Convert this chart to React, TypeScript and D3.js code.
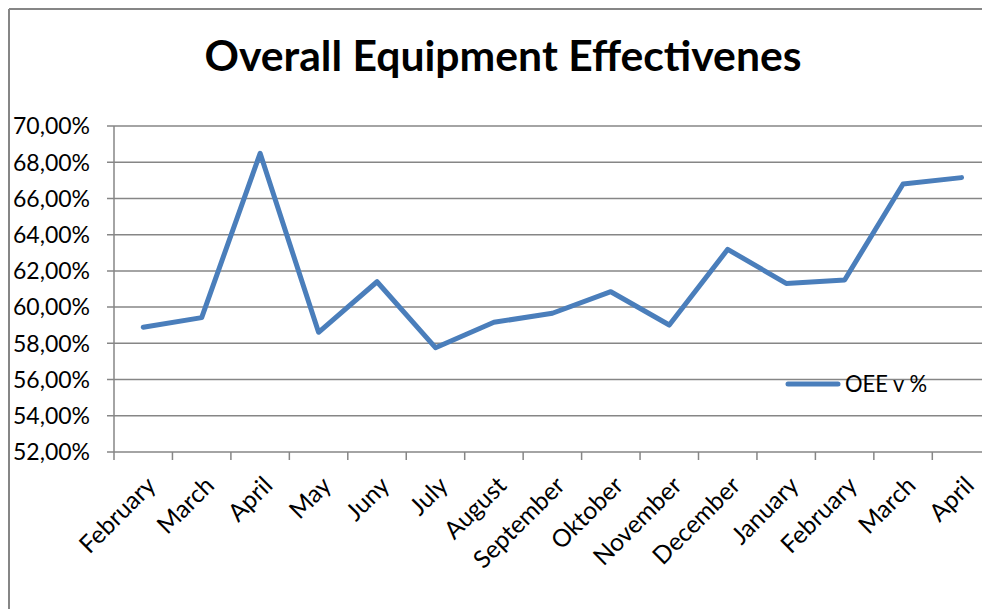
import React from "react";
import * as d3 from "d3";

const categories = [
  "February", "March", "April", "May", "Juny", "July", "August", "September",
  "Oktober", "November", "December", "January", "February", "March", "April",
];
const oeeValues = [
  58.89, 59.42, 68.49, 58.61, 61.4, 57.76, 59.16, 59.66,
  60.85, 59.01, 63.19, 61.31, 61.5, 66.8, 67.15,
];
const yTicks = [52, 54, 56, 58, 60, 62, 64, 66, 68, 70];
const seriesName = "OEE v %";
const title = "Overall Equipment Effectivenes";

const W = 982;
const H = 609;
const left = 114;
const top = 126;
const bottom = 452;
const bandW = 58.45;
const right = left + bandW * categories.length;
const FONT = "Lato, 'Open Sans', sans-serif";

export default function App() {
  const idx = categories.map((_, i) => i);
  const x = d3.scaleBand<number>().domain(idx).range([left, right]).padding(0);
  const y = d3.scaleLinear().domain([52, 70]).range([bottom, top]);
  const line = d3
    .line<number>()
    .x((_, i) => (x(i) as number) + x.bandwidth() / 2)
    .y((d) => y(d));
  const fmt = (v: number) => v.toFixed(2).replace(".", ",") + "%";
  const grid = "#868686";

  return (
    <svg
      width={W}
      height={H}
      style={{ position: "absolute", left: 0, top: 0, background: "#fff" }}
    >
      <rect x={0} y={0} width={W} height={H} fill="#fff" />
      {/* chart border */}
      <line x1={9} y1={9} x2={W + 5} y2={9} stroke="#868686" strokeWidth={2} />
      <line x1={9} y1={9} x2={9} y2={H + 5} stroke="#868686" strokeWidth={2} />

      <text
        x={503}
        y={71}
        textAnchor="middle"
        fontFamily={FONT}
        fontWeight="bold"
        fontSize={42}
        fill="#000"
        textLength={597}
        lengthAdjust="spacingAndGlyphs"
      >
        {title}
      </text>

      {/* gridlines & y ticks */}
      {yTicks.map((t) => (
        <g key={t}>
          <line
            x1={left - 7}
            x2={right}
            y1={y(t)}
            y2={y(t)}
            stroke={grid}
            strokeWidth={1.5}
          />
          <text
            x={90}
            y={y(t)}
            dy="0.36em"
            textAnchor="end"
            fontFamily={FONT}
            fontSize={23}
            fill="#000"
            textLength={77}
            lengthAdjust="spacingAndGlyphs"
          >
            {fmt(t)}
          </text>
        </g>
      ))}
      {/* y axis */}
      <line x1={left} x2={left} y1={top} y2={bottom} stroke={grid} strokeWidth={1.5} />
      {/* x ticks */}
      {d3.range(categories.length + 1).map((i) => (
        <line
          key={i}
          x1={left + i * x.step()}
          x2={left + i * x.step()}
          y1={bottom}
          y2={bottom + 8}
          stroke={grid}
          strokeWidth={1.5}
        />
      ))}
      {categories.map((c, i) => {
        const cx = (x(i) as number) + x.bandwidth() / 2 + 14;
        const cy = 487;
        return (
          <text
            key={i}
            x={cx}
            y={cy}
            textAnchor="end"
            transform={`rotate(-45 ${cx} ${cy})`}
            fontFamily={FONT}
            fontSize={24.5}
            fill="#000"
          >
            {c}
          </text>
        );
      })}

      <path
        d={line(oeeValues) || ""}
        fill="none"
        stroke="#4A7EBB"
        strokeWidth={5}
        strokeLinejoin="round"
        strokeLinecap="round"
      />

      {/* legend */}
      <line x1={788} x2={838} y1={384} y2={384} stroke="#4A7EBB" strokeWidth={5} strokeLinecap="round" />
      <text
        x={845}
        y={384}
        dy="0.36em"
        fontFamily={FONT}
        fontSize={23}
        fill="#000"
        textLength={82}
        lengthAdjust="spacingAndGlyphs"
      >
        {seriesName}
      </text>
    </svg>
  );
}
